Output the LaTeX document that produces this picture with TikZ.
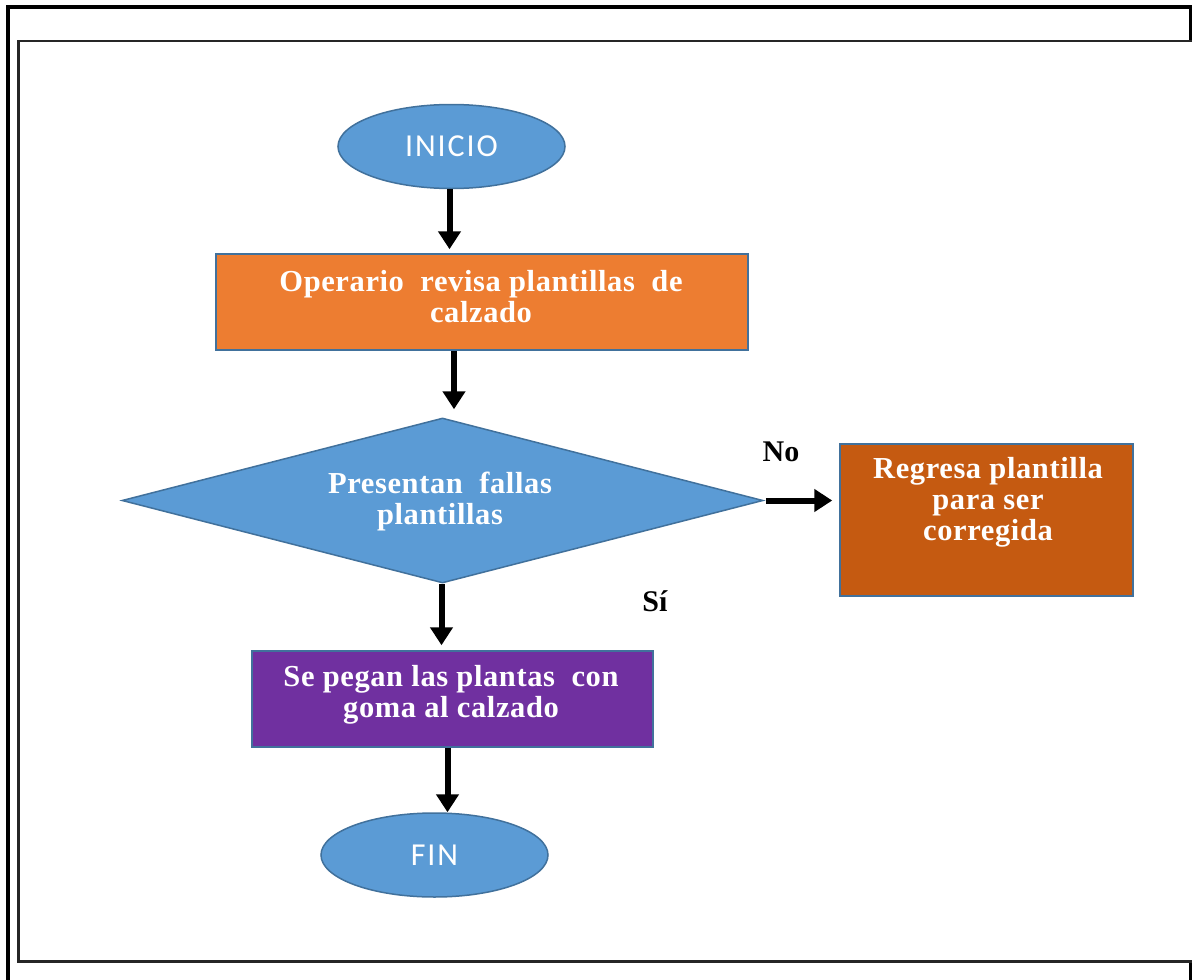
\documentclass[tikz,border=0pt]{standalone}
\usepackage{fontspec}
\setmainfont{Liberation Serif}
\newfontfamily\termfont[LetterSpace=6]{Carlito}
\newfontfamily\boxfont[LetterSpace=2]{Liberation Serif}
\usetikzlibrary{shapes.geometric,arrows.meta}
\definecolor{termblue}{HTML}{5B9BD5}
\definecolor{edgeblue}{HTML}{41719C}
\definecolor{stepor}{HTML}{ED7D31}
\definecolor{backor}{HTML}{C55A11}
\definecolor{pastepur}{HTML}{7030A0}
\begin{document}
\begin{tikzpicture}[x=1pt,y=-1pt,
  terminal/.style={ellipse, fill=termblue, draw=edgeblue, line width=1.5pt,
    minimum width=227pt, minimum height=84pt, inner sep=0pt, text=white,
    font=\termfont\fontsize{32}{34}\selectfont},
  stepbox/.style={rectangle, draw=edgeblue, line width=1.5pt, inner sep=0pt},
  boxtext/.style={text=white, align=center, inner sep=0pt,
    font=\boxfont\bfseries\fontsize{30.5}{31}\selectfont},
  flow/.style={line width=6pt, -{Triangle[width=22pt,length=18pt]}},
  tag/.style={font=\bfseries\fontsize{30}{31}\selectfont}
]
\useasboundingbox (0,0) rectangle (1192,980);
\clip (0,0) rectangle (1192,980);

% page frames
\draw[line width=4pt] (8,6.5) rectangle (1191,1010);
\draw[fill=white, draw=black!85, line width=2.5pt] (18.3,41) rectangle (1220,961.5);

% shapes
\node[terminal] (ini) at (451.5,146.5) {INICIO};
\node[stepbox, fill=stepor, minimum width=532pt, minimum height=96pt] (op) at (482,302) {};
\node[diamond, fill=termblue, draw=edgeblue, line width=1.5pt,
      minimum width=641pt, minimum height=165pt, inner sep=0pt] (dec) at (442.5,500.5) {};
\node[stepbox, fill=backor, minimum width=293pt, minimum height=152pt] (ret) at (986.5,520) {};
\node[stepbox, fill=pastepur, minimum width=401pt, minimum height=96pt] (pg) at (452.5,699) {};
\node[terminal] (fin) at (434.5,855) {FIN};

% texts
\node[boxtext] (opt) at (481,297) {Operario \ revisa plantillas \ de\\calzado};
\node[boxtext] (dect) at (440,501.5) {Presentan \ fallas\\plantillas};
\node[boxtext] (rett) at (988,502) {Regresa plantilla\\para ser\\corregida};
\node[boxtext] (pgt) at (451,695) {Se pegan las plantas \ con\\goma al calzado};

\node[tag] (no) at (781,452) {No};
\node[tag] (si) at (655,601) {Sí};

% connectors
\draw[flow] ([xshift=-2pt]ini.south) -- ([xshift=-2pt,yshift=4pt]ini.south |- op.north);
\draw[flow] ([xshift=-28pt]op.south) -- ([xshift=-28pt,yshift=8pt]op.south |- dec.north);
\draw[flow] ([xshift=2pt]dec.east) -- ([xshift=-7pt]dec.east -| ret.west);
\draw[flow] ([xshift=-1pt]dec.south) -- ([xshift=-1pt,yshift=5pt]dec.south |- pg.north);
\draw[flow] ([xshift=-5pt]pg.south) -- ([xshift=-5pt]pg.south |- fin.north);
\end{tikzpicture}
\end{document}
